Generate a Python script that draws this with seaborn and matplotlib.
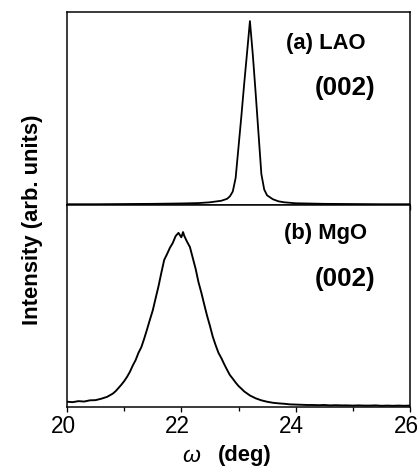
import numpy as np
import pandas as pd
import matplotlib
matplotlib.use("Agg")
import matplotlib.pyplot as plt
import matplotlib.transforms as mtransforms
from matplotlib.ticker import MultipleLocator
import seaborn as sns

# ---------------- data ----------------
# (a) LAO (002) rocking curve, normalised to the panel height
omega_lao = [20.0, 20.5, 21.0, 21.5, 22.0, 22.3, 22.5, 22.7, 22.8, 22.85,
             22.9, 22.95, 23.0, 23.05, 23.1, 23.15, 23.2, 23.25, 23.3, 23.35,
             23.4, 23.45, 23.5, 23.6, 23.7, 23.8, 24.0, 24.5, 25.0, 25.5, 26.0]
int_lao = [0.004, 0.004, 0.005, 0.006, 0.008, 0.010, 0.014, 0.022, 0.032, 0.045,
           0.070, 0.140, 0.300, 0.460, 0.630, 0.790, 0.953, 0.780, 0.580, 0.370,
           0.160, 0.080, 0.050, 0.030, 0.019, 0.014, 0.009, 0.006, 0.005, 0.004, 0.004]

# (b) MgO (002) rocking curve
omega_mgo = [20.0, 20.1, 20.2, 20.3, 20.4, 20.5, 20.6, 20.7, 20.8, 20.85,
             20.9, 20.95, 21.0, 21.05, 21.1, 21.15, 21.2, 21.25, 21.3, 21.35,
             21.4, 21.45, 21.5, 21.55, 21.6, 21.65, 21.7, 21.75, 21.8, 21.85,
             21.9, 21.95, 22.0, 22.03, 22.05, 22.1, 22.15, 22.2, 22.25, 22.3,
             22.35, 22.4, 22.45, 22.5, 22.55, 22.6, 22.65, 22.7, 22.75, 22.8,
             22.85, 22.9, 22.95, 23.0, 23.05, 23.1, 23.15, 23.2, 23.3, 23.4,
             23.5, 23.6, 23.7, 23.8, 23.9, 24.0, 24.1, 24.2, 24.3, 24.4,
             24.5, 24.6, 24.7, 24.8, 24.9, 25.0, 25.1, 25.2, 25.3, 25.4,
             25.5, 25.6, 25.7, 25.8, 25.9, 26.0]
int_mgo = [0.026, 0.024, 0.029, 0.027, 0.033, 0.034, 0.041, 0.050, 0.066, 0.078,
           0.094, 0.110, 0.128, 0.149, 0.174, 0.205, 0.232, 0.268, 0.296, 0.338,
           0.384, 0.432, 0.478, 0.538, 0.597, 0.664, 0.728, 0.757, 0.788, 0.812,
           0.846, 0.862, 0.840, 0.866, 0.848, 0.818, 0.792, 0.738, 0.684, 0.618,
           0.566, 0.508, 0.452, 0.402, 0.348, 0.306, 0.268, 0.242, 0.212, 0.184,
           0.158, 0.140, 0.121, 0.104, 0.091, 0.077, 0.067, 0.057, 0.043, 0.033,
           0.026, 0.021, 0.018, 0.016, 0.013, 0.012, 0.011, 0.010, 0.010, 0.009,
           0.010, 0.008, 0.009, 0.008, 0.008, 0.007, 0.008, 0.007, 0.007, 0.008,
           0.006, 0.007, 0.006, 0.007, 0.006, 0.007]

x_ticks = [20, 22, 24, 26]
panel_labels = ["(a) LAO", "(b) MgO"]
reflection = "(002)"

df_lao = pd.DataFrame({"omega": omega_lao, "I": int_lao})
df_mgo = pd.DataFrame({"omega": omega_mgo, "I": int_mgo})

# ---------------- style ----------------
sns.set_theme(style="ticks")
plt.rcParams["font.family"] = ["Liberation Sans", "DejaVu Sans"]
plt.rcParams.update({
    "axes.linewidth": 1.5,
    "axes.edgecolor": "black",
    "text.color": "black",
    "axes.labelcolor": "black",
    "xtick.color": "black",
    "ytick.color": "black",
})

W, H, DPI = 419, 467, 72
fig = plt.figure(figsize=(W / DPI, H / DPI), dpi=DPI)

left, width = 67 / W, 343 / W
ax_top = fig.add_axes([left, 1 - 205 / H, width, 193 / H])
ax_bot = fig.add_axes([left, 1 - 407 / H, width, 202 / H])

sns.lineplot(data=df_lao, x="omega", y="I", ax=ax_top, color="black", lw=1.8)
sns.lineplot(data=df_mgo, x="omega", y="I", ax=ax_bot, color="black", lw=1.9)

for ax in (ax_top, ax_bot):
    ax.set_xlim(20, 26)
    ax.set_ylim(0, 1)
    ax.set_xlabel("")
    ax.set_ylabel("")
    ax.set_yticks([])
    ax.xaxis.set_major_locator(MultipleLocator(2))
    ax.xaxis.set_minor_locator(MultipleLocator(1))
    ax.tick_params(axis="x", which="major", direction="out", length=5, width=1.3,
                   pad=3, labelsize=22.5, color="black", labelcolor="black")
    ax.tick_params(axis="x", which="minor", direction="out", length=4, width=1.3,
                   color="black")
    for s in ax.spines.values():
        s.set_visible(True)
        s.set_color("black")
        s.set_linewidth(1.5)

ax_top.tick_params(axis="x", which="both", labelbottom=False)
ax_bot.set_xticks(x_ticks)
ax_bot.set_xticklabels([str(t) for t in x_ticks])
shift = mtransforms.ScaledTranslation(-4 / DPI, 0, fig.dpi_scale_trans)
for lab in ax_bot.get_xticklabels():
    lab.set_transform(lab.get_transform() + shift)

# panel annotations
ax_top.text(0.755, 0.839, panel_labels[0], transform=ax_top.transAxes,
            ha="center", va="center", fontsize=22, fontweight="bold", color="black")
ax_top.text(0.812, 0.606, reflection, transform=ax_top.transAxes,
            ha="center", va="center", fontsize=26, fontweight="bold", color="black")
ax_bot.text(0.755, 0.861, panel_labels[1], transform=ax_bot.transAxes,
            ha="center", va="center", fontsize=22, fontweight="bold", color="black")
ax_bot.text(0.812, 0.634, reflection, transform=ax_bot.transAxes,
            ha="center", va="center", fontsize=26, fontweight="bold", color="black")

# axis labels
fig.text(33 / W, 1 - 220 / H, "Intensity (arb. units)", rotation=90,
         ha="center", va="center", fontsize=22, fontweight="bold", color="black")
fig.text(191 / W, 1 - 456 / H, "ω", ha="center", va="center",
         fontsize=23, fontstyle="italic", color="black")
fig.text(245 / W, 1 - 456 / H, "(deg)", ha="center", va="center",
         fontsize=22, fontweight="bold", color="black")

fig.savefig("out.png", dpi=DPI, facecolor="white")
